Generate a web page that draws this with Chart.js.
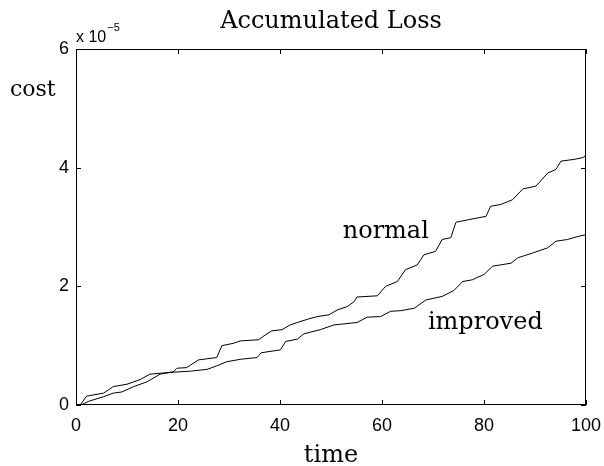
<!DOCTYPE html>
<html>
<head>
<meta charset="utf-8">
<script src="https://cdn.jsdelivr.net/npm/chart.js"></script>
<style>
  html, body { margin: 0; padding: 0; background: #fff; }
  #wrap { width: 604px; height: 466px; }
</style>
</head>
<body>
<div id="wrap"><canvas id="lossChart"></canvas></div>
<script>
// values, cost in units of 1e-5
const timeNormal = [1, 2.4, 5.4, 7.3, 9, 11.3, 13.9, 16.5, 19.1, 19.8, 21.7, 24, 27.6, 28.6, 30.9, 32.2, 35.8, 37.1, 38.4, 40.4, 42, 43.4, 45.6, 47.3, 49.6, 51.2, 53.2, 54.5, 55.1, 59.1, 60.7, 63, 64.6, 66.9, 68.2, 70.5, 71.8, 73.5, 74.5, 76.8, 80.4, 81.3, 83.3, 85.6, 87.6, 90.2, 92.5, 94.1, 95.1, 97.7, 99.4, 100];
const costNormal = [0, 0.06, 0.14, 0.2, 0.22, 0.31, 0.39, 0.52, 0.56, 0.62, 0.63, 0.76, 0.8, 1.0, 1.04, 1.08, 1.1, 1.18, 1.25, 1.27, 1.35, 1.39, 1.45, 1.49, 1.52, 1.6, 1.66, 1.74, 1.82, 1.84, 2.0, 2.08, 2.28, 2.36, 2.53, 2.59, 2.79, 2.82, 3.08, 3.12, 3.18, 3.35, 3.38, 3.46, 3.64, 3.69, 3.91, 3.97, 4.11, 4.14, 4.17, 4.21];

const timeImproved = [0.8, 2.1, 5.4, 7.3, 10, 12.6, 14.5, 18.5, 22.4, 25.7, 27.6, 29.6, 32.2, 35.5, 36.3, 40.1, 41.1, 43.4, 44.7, 47.9, 50.6, 55.1, 57.1, 59.7, 61.7, 63.7, 66.3, 68.6, 71.8, 74.1, 75.8, 77.7, 80, 81.7, 85.3, 86.6, 89.5, 92.5, 94.1, 96.4, 98.4, 100];
const costImproved = [0, 0.15, 0.2, 0.31, 0.35, 0.43, 0.52, 0.55, 0.57, 0.6, 0.66, 0.73, 0.77, 0.8, 0.88, 0.93, 1.07, 1.11, 1.2, 1.27, 1.35, 1.39, 1.48, 1.49, 1.58, 1.59, 1.63, 1.77, 1.83, 1.93, 2.08, 2.11, 2.2, 2.34, 2.39, 2.48, 2.56, 2.65, 2.76, 2.79, 2.84, 2.87];

const xTicks = [0, 20, 40, 60, 80, 100];
const yTicks = [0, 2, 4, 6];

const chartTitle = 'Accumulated Loss';
const xLabel = 'time';
const yLabel = 'cost';
const lineLabels = ['normal', 'improved'];
// where the line labels sit, in data units (time, cost)
const labelSpots = [[52.3, 2.82], [69, 1.28]];

const serif = '"DejaVu Serif", serif';
const sans = '"Liberation Sans", Arial, sans-serif';

function toPoints(xs, ys) {
    return xs.map((x, i) => ({ x: x, y: ys[i] }));
}

// box, inward ticks and the text MATLAB puts round the axes
const axesDecor = {
    id: 'axesDecor',
    afterDatasetsDraw(chart) {
        const ctx = chart.ctx;
        const a = chart.chartArea;
        const xs = chart.scales.x;
        const ys = chart.scales.y;
        ctx.save();
        ctx.strokeStyle = '#000';
        ctx.lineWidth = 1;
        ctx.strokeRect(Math.round(a.left) + 0.5, Math.round(a.top) + 0.5,
            Math.round(a.right - a.left) - 1, Math.round(a.bottom - a.top) - 1);
        ctx.beginPath();
        xTicks.forEach(v => {
            const px = Math.round(xs.getPixelForValue(v)) + 0.5;
            ctx.moveTo(px, a.bottom); ctx.lineTo(px, a.bottom - 5);
            ctx.moveTo(px, a.top); ctx.lineTo(px, a.top + 5);
        });
        yTicks.forEach(v => {
            const py = Math.round(ys.getPixelForValue(v)) + 0.5;
            ctx.moveTo(a.left, py); ctx.lineTo(a.left + 5, py);
            ctx.moveTo(a.right, py); ctx.lineTo(a.right - 5, py);
        });
        ctx.stroke();

        ctx.fillStyle = '#000';
        ctx.textBaseline = 'alphabetic';
        ctx.font = '24px ' + serif;
        ctx.textAlign = 'center';
        ctx.fillText(chartTitle, (a.left + a.right) / 2, 28);
        ctx.fillText(xLabel, (a.left + a.right) / 2, 462);
        ctx.textAlign = 'left';
        lineLabels.forEach((t, i) => {
            ctx.fillText(t, xs.getPixelForValue(labelSpots[i][0]), ys.getPixelForValue(labelSpots[i][1]));
        });
        ctx.font = '22px ' + serif;
        ctx.fillText(yLabel, 10, 96);

        // exponent note above the y axis
        ctx.font = '16px ' + sans;
        ctx.fillText('x 10', a.left, 42);
        const w = ctx.measureText('x 10').width;
        ctx.font = '11px ' + sans;
        ctx.fillText('\u22125', a.left + w + 1, 31);
        ctx.restore();
    }
};

const ctx = document.getElementById('lossChart').getContext('2d');
new Chart(ctx, {
    type: 'scatter',
    data: {
        datasets: [
            { label: lineLabels[0], data: toPoints(timeNormal, costNormal) },
            { label: lineLabels[1], data: toPoints(timeImproved, costImproved) }
        ]
    },
    options: {
        responsive: true,
        maintainAspectRatio: false,
        animation: false,
        showLine: true,
        elements: {
            line: { borderColor: '#000', borderWidth: 1, tension: 0 },
            point: { radius: 0 }
        },
        layout: { padding: { top: 49, right: 18, bottom: 0, left: 0 } },
        plugins: {
            legend: { display: false },
            title: { display: false },
            tooltip: { enabled: false }
        },
        scales: {
            x: {
                type: 'linear', min: 0, max: 100,
                grid: { display: false, drawTicks: false },
                border: { display: false },
                afterBuildTicks: s => { s.ticks = xTicks.map(v => ({ value: v })); },
                ticks: { color: '#000', font: { family: sans, size: 18 }, padding: 10, maxRotation: 0 },
                afterFit: s => {
                    s.height = 61;
                    // let the "100" label hang over the right margin
                    s.paddingLeft = 0;
                    s.paddingRight = 0;
                }
            },
            y: {
                type: 'linear', min: 0, max: 6,
                grid: { display: false, drawTicks: false },
                border: { display: false },
                afterBuildTicks: s => { s.ticks = yTicks.map(v => ({ value: v })); },
                ticks: { color: '#000', font: { family: sans, size: 18 }, padding: 7 },
                afterFit: s => {
                    s.width = 76;
                    s.paddingTop = 0;
                    s.paddingBottom = 0;
                }
            }
        }
    },
    plugins: [axesDecor]
});
</script>
</body>
</html>
